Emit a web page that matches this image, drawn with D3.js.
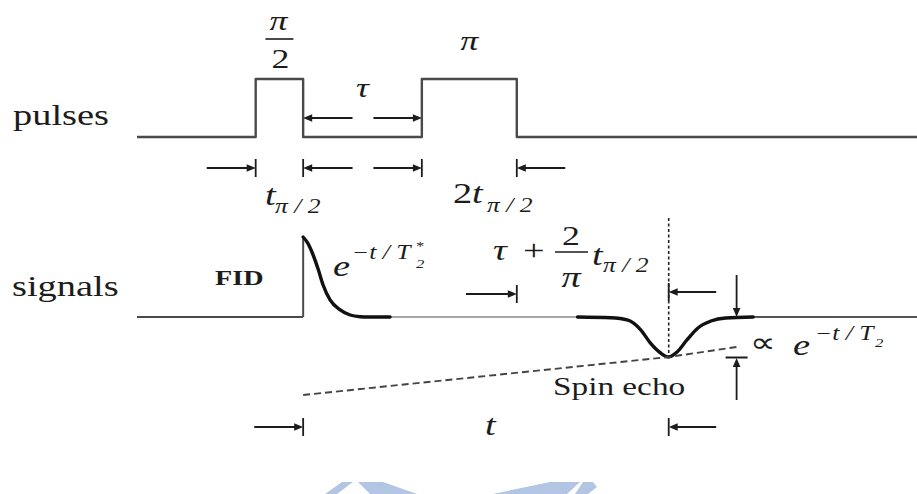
<!DOCTYPE html>
<html>
<head>
<meta charset="utf-8">
<script src="https://cdn.jsdelivr.net/npm/d3@7"></script>
<style>
  html, body { margin: 0; padding: 0; background: #fff; }
  svg { display: block; }
</style>
</head>
<body>
<svg id="chart" width="917" height="494"></svg>
<script>
// Time in arbitrary units (t = 0 at the end of the pi/2 pulse, t_pi/2 = 10 units)
const timeDomain = [-35, 129.3];
const pulseTimes = [[-10, 0], [25, 45]];           // [start, end] of pi/2 and pi pulses
const pulseNames = ["π/2", "π"];
const echoTime = 77;
// Free induction decay (time, amplitude)
const fidCurve = [[0, 1], [1, 0.92], [2.1, 0.775], [3.2, 0.59], [4.2, 0.4], [5.7, 0.21],
                  [7.8, 0.09], [9.9, 0.025], [12, 0.004], [14, 0], [18.3, 0]];
// Spin echo (time, amplitude)
const echoCurve = [[57.8, 0], [64.8, -0.01], [68.4, -0.04], [71.1, -0.16], [73.2, -0.33],
                   [75.3, -0.45], [77, -0.5], [78.7, -0.44], [80.8, -0.29], [83.1, -0.14],
                   [85.9, -0.05], [89, -0.012], [94.8, 0]];
// T2 envelope through the echo maximum
const envelope = [[0, -0.975], [77, -0.5], [91.3, -0.375]];
const envArrowTime = 91.3;

const svg = d3.select("#chart");
const x = d3.scaleLinear().domain(timeDomain).range([137, 917]);
const yPulse = d3.scaleLinear().domain([0, 1]).range([137, 79]);
const ySig = d3.scaleLinear().domain([0, 1]).range([317, 237]);

const SX = 1.28;
const INK = "#1c1c1c";
function put(px, py, s, size, o = {}) {
  return svg.append("text")
    .attr("transform", `translate(${px},${py}) scale(${SX},1)`)
    .attr("font-family", "'Liberation Serif','Times New Roman',serif")
    .attr("font-size", size)
    .attr("font-style", o.italic ? "italic" : "normal")
    .attr("font-weight", o.bold ? "bold" : "normal")
    .attr("text-anchor", o.anchor || "start")
    .attr("fill", INK)
    .text(s);
}
function seg(x1, y1, x2, y2, w = 1.8, c = INK) {
  return svg.append("line").attr("x1", x1).attr("y1", y1).attr("x2", x2).attr("y2", y2)
    .attr("stroke", c).attr("stroke-width", w);
}
function head(tx, ty, dx, dy) {
  // filled arrow head with its tip at (tx, ty), pointing along (dx, dy)
  const L = 9, W = 3.8;
  const bx = tx - dx * L, by = ty - dy * L;
  svg.append("path")
    .attr("d", `M${tx},${ty}L${bx - dy * W},${by + dx * W}L${bx + dy * W},${by - dx * W}Z`)
    .attr("fill", INK);
}
function hArrow(py, from, to, tick) {
  const x1 = x(from), x2 = x(to), d = Math.sign(x2 - x1);
  seg(x1, py, x2 - d * 6, py);
  head(x2, py, d, 0);
  if (tick) seg(x2, py - 9, x2, py + 9);
}
function vArrow(px, y1, y2, bar) {
  const d = Math.sign(y2 - y1);
  seg(px, y1, px, y2 - d * 6);
  head(px, y2, 0, d);
  if (bar) seg(px - 11, y2 - 0.5, px + 11, y2 - 0.5, 2);
}

// ---------- pulse train ----------
const pulsePts = [[timeDomain[0], 0]];
pulseTimes.forEach(([a, b]) => pulsePts.push([a, 0], [a, 1], [b, 1], [b, 0]));
pulsePts.push([timeDomain[1], 0]);
svg.append("path")
  .datum(pulsePts)
  .attr("d", d3.line().x(d => x(d[0])).y(d => yPulse(d[1])))
  .attr("fill", "none").attr("stroke", "#4a4a4a").attr("stroke-width", 2.4)
  .attr("stroke-linejoin", "round");

put(13, 125, "pulses", 30);

// pulse names
const c1 = x((pulseTimes[0][0] + pulseTimes[0][1]) / 2);
const c2 = x((pulseTimes[1][0] + pulseTimes[1][1]) / 2);
put(c1 - 1, 30, pulseNames[0][0], 28, { italic: true, anchor: "middle" });
seg(c1 - 14, 39, c1 + 14, 39, 1.6);
put(c1 + 1, 68, pulseNames[0][2], 28, { anchor: "middle" });
put(c2, 50, pulseNames[1], 28, { italic: true, anchor: "middle" });

// tau between the pulses
put(x((pulseTimes[0][1] + pulseTimes[1][0]) / 2), 97, "τ", 28, { italic: true, anchor: "middle" });
hArrow(118, 10.4, pulseTimes[0][1], false);
hArrow(118, 14.8, pulseTimes[1][0], false);

// pulse durations
hArrow(168, -20.3, pulseTimes[0][0], true);
hArrow(168, 10.4, pulseTimes[0][1], true);
hArrow(168, 14.8, pulseTimes[1][0], true);
hArrow(168, 55.2, pulseTimes[1][1], true);

put(265, 205, "t", 30, { italic: true });
put(275, 213, "π / 2", 20, { italic: true });
put(453, 203, "2", 30);
put(472, 203, "t", 30, { italic: true });
put(487, 212, "π / 2", 20, { italic: true });

// ---------- signals ----------
put(12, 296, "signals", 30);
put(215, 285, "FID", 22, { bold: true });

// baseline up to the FID
seg(137, ySig(0), x(0), ySig(0), 2.2, "#4a4a4a");
seg(x(0), ySig(0), x(0), ySig(1), 2, "#4a4a4a");
// baseline between FID and echo, and after the echo
seg(x(18.3), ySig(0), x(57.8), ySig(0), 1.6, "#8a8a8a");
seg(x(94.8), ySig(0), 917, ySig(0), 2, "#555");

const sigLine = d3.line().x(d => x(d[0])).y(d => ySig(d[1])).curve(d3.curveMonotoneX);
svg.append("path").datum(fidCurve).attr("d", sigLine)
  .attr("fill", "none").attr("stroke", "#111").attr("stroke-width", 3.4).attr("stroke-linecap", "round");
svg.append("path").datum(echoCurve).attr("d", sigLine)
  .attr("fill", "none").attr("stroke", "#111").attr("stroke-width", 3.4).attr("stroke-linecap", "round");

// e^{-t/T2*}
put(333, 276, "e", 30, { italic: true });
put(352, 259, "−t / T", 20, { italic: true });
put(416, 268, "2", 13, { italic: true });
put(416, 250, "*", 13);

// envelope and echo marker
svg.append("path").datum(envelope)
  .attr("d", d3.line().x(d => x(d[0])).y(d => ySig(d[1])))
  .attr("fill", "none").attr("stroke", "#444").attr("stroke-width", 1.9)
  .attr("stroke-dasharray", "7,4");
seg(x(echoTime), 218, x(echoTime), ySig(-0.5), 1.6, "#222").attr("stroke-dasharray", "3,2.5");

// tau + (2/pi) t_pi/2
put(493, 260, "τ", 30, { italic: true });
put(523, 260, "+", 30);
put(571, 245, "2", 28, { anchor: "middle" });
seg(555, 252, 588, 252, 1.6);
put(571, 287, "π", 30, { italic: true, anchor: "middle" });
put(592, 265, "t", 30, { italic: true });
put(603, 272, "π / 2", 20, { italic: true });
hArrow(294, 34.3, pulseTimes[1][1], true);
hArrow(292, 87, echoTime, true);

// echo amplitude
vArrow(x(envArrowTime), 275, ySig(0), false);
vArrow(x(envArrowTime), 400, 358, true);
put(750, 352, "∝", 28);
put(793, 355, "e", 30, { italic: true });
put(815, 340, "−t / T", 20, { italic: true });
put(875, 347, "2", 13, { italic: true });

put(553, 395, "Spin echo", 26);

// echo time t
hArrow(427, -10.3, 0, true);
hArrow(427, 87, echoTime, true);
put(485, 435, "t", 30, { italic: true });

// light blue emblem at the bottom edge
const emblem = [
  [[342, 482], [353, 482], [337, 494], [325, 494]],
  [[358, 482], [383, 482], [417, 494], [370, 494]],
  [[550, 482], [580, 482], [567, 494], [493, 494]],
  [[583, 482], [593, 482], [597, 487], [588, 494], [575, 494]]
];
svg.append("g").selectAll("polygon").data(emblem).join("polygon")
  .attr("points", d => d.map(p => p.join(",")).join(" "))
  .attr("fill", "#b2c5e3");
</script>
</body>
</html>
